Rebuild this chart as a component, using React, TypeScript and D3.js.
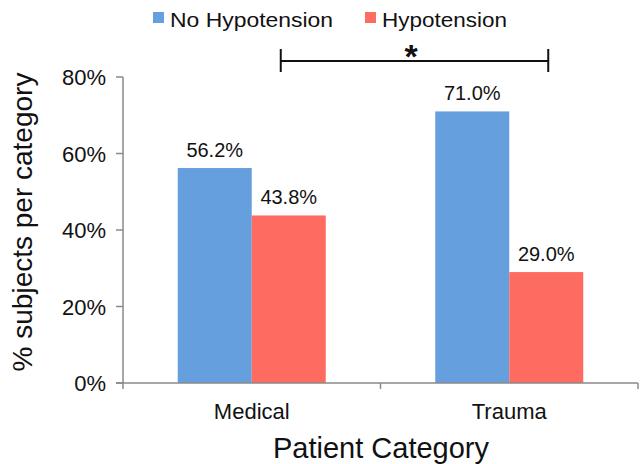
import React from "react";
import * as d3 from "d3";

const categories = ["Medical", "Trauma"];
const seriesNames = ["No Hypotension", "Hypotension"];
const noHypotension = [56.2, 71.0];
const hypotension = [43.8, 29.0];
const yTicks = [0, 20, 40, 60, 80];
const colors = ["#659fdd", "#fe6b60"];

const W = 640;
const H = 464;
const left = 123;
const right = 638;
const top = 77;
const bottom = 383;

export default function App() {
  const x0 = d3.scaleBand<string>().domain(categories).range([left, right]).padding(0);
  const barW = 74;
  const x1 = d3
    .scaleBand<string>()
    .domain(seriesNames)
    .range([x0.bandwidth() / 2 - barW, x0.bandwidth() / 2 + barW]);
  const y = d3.scaleLinear().domain([0, 80]).range([bottom, top]);
  const series = [noHypotension, hypotension];
  const font = "Liberation Sans, Arial, Helvetica, sans-serif";

  const bx1 = (x0("Medical") as number) + (x1("Hypotension") as number) + 29;
  const bx2 = (x0("Trauma") as number) + (x1("Hypotension") as number) + x1.bandwidth() / 2 + 2;
  const by = 61;

  return (
    <svg width={W} height={H} style={{ display: "block", position: "absolute", left: 0, top: 0 }} fontFamily={font}>
      <rect width={W} height={H} fill="#fff" />
      {/* legend */}
      <g>
        <rect x={153} y={12} width={11} height={11} fill={colors[0]} />
        <text x={170} y={27} fontSize={21} textLength={163} lengthAdjust="spacingAndGlyphs" fill="#111">
          {seriesNames[0]}
        </text>
        <rect x={365} y={12} width={11} height={11} fill={colors[1]} />
        <text x={382} y={27} fontSize={21} textLength={125} lengthAdjust="spacingAndGlyphs" fill="#111">
          {seriesNames[1]}
        </text>
      </g>
      {/* bars */}
      {categories.map((c, ci) => (
        <g key={c} transform={`translate(${x0(c)},0)`}>
          {seriesNames.map((s, si) => {
            const v = series[si][ci];
            const bx = x1(s) as number;
            return (
              <g key={s}>
                <rect x={bx} y={y(v)} width={x1.bandwidth()} height={bottom - y(v)} fill={colors[si]} />
                <text
                  x={bx + x1.bandwidth() / 2}
                  y={y(v) - 11}
                  textAnchor="middle"
                  fontSize={20}
                  fill="#111"
                >
                  {v.toFixed(1)}%
                </text>
              </g>
            );
          })}
        </g>
      ))}
      {/* y axis */}
      <line x1={left} x2={left} y1={top} y2={bottom} stroke="#8a8a8a" strokeWidth={1.5} />
      {yTicks.map((t) => (
        <g key={t}>
          <line x1={left - 7} x2={left} y1={y(t)} y2={y(t)} stroke="#8a8a8a" strokeWidth={1.5} />
          <text x={106} y={y(t) + 8} textAnchor="end" fontSize={22} fill="#111">
            {t}%
          </text>
        </g>
      ))}
      {/* x axis */}
      <line x1={left - 7} x2={right} y1={bottom} y2={bottom} stroke="#8a8a8a" strokeWidth={1.5} />
      {[left, ...categories.map((c) => (x0(c) as number) + x0.bandwidth())].map((tx, i) => (
        <line key={i} x1={tx} x2={tx} y1={bottom} y2={bottom + 6} stroke="#8a8a8a" strokeWidth={1.5} />
      ))}
      {categories.map((c) => (
        <text
          key={c}
          x={(x0(c) as number) + x0.bandwidth() / 2}
          y={419}
          textAnchor="middle"
          fontSize={22}
          fill="#111"
        >
          {c}
        </text>
      ))}
      <text x={381} y={458} textAnchor="middle" fontSize={29} fill="#111">
        Patient Category
      </text>
      <text
        transform={`translate(32,222) rotate(-90)`}
        textAnchor="middle"
        fontSize={28}
        fill="#111"
      >
        % subjects per category
      </text>
      {/* significance bracket */}
      <g stroke="#111" strokeWidth={2}>
        <line x1={bx1} x2={bx2} y1={by} y2={by} />
        <line x1={bx1} x2={bx1} y1={by - 12} y2={by + 11} />
        <line x1={bx2} x2={bx2} y1={by - 12} y2={by + 11} />
      </g>
      <text x={411} y={68} textAnchor="middle" fontSize={34} fontWeight="bold" fill="#111">
        *
      </text>
    </svg>
  );
}
